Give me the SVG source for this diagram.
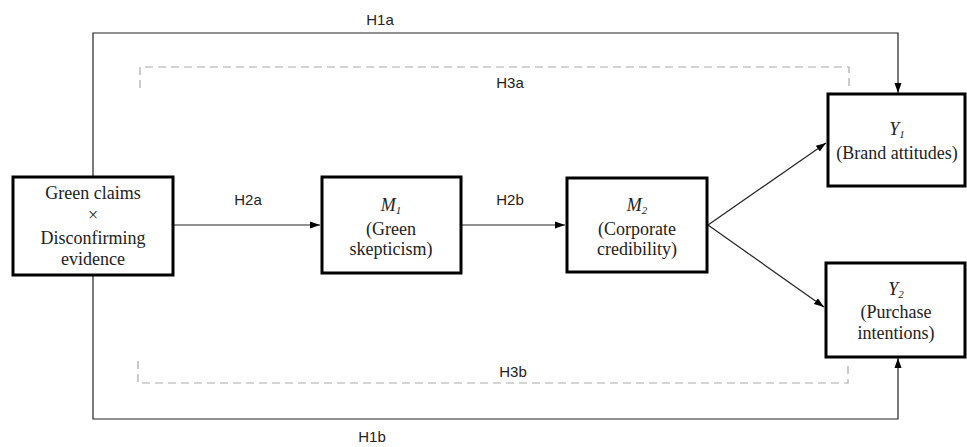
<svg xmlns="http://www.w3.org/2000/svg" width="967" height="447" viewBox="0 0 967 447">
<style>
.box{fill:#fff;stroke:#000;stroke-width:3}
.t{font-family:"Liberation Serif",serif;font-size:18px;fill:#222;text-anchor:middle}
.i{font-style:italic}
.sub{font-style:italic;font-size:11px}
.lbl{font-family:"Liberation Sans",Arial,sans-serif;font-size:15px;fill:#222;text-anchor:middle}
.ln{fill:none;stroke:#222;stroke-width:1.2}
.ds{fill:none;stroke:#aaa;stroke-width:1.2;stroke-dasharray:8,5}
</style>
<defs>
<marker id="ah" viewBox="0 0 10 10" refX="10" refY="5" markerWidth="10" markerHeight="10" markerUnits="userSpaceOnUse" orient="auto">
<path d="M0,1.5 L10,5 L0,8.5 z" fill="#000"/>
</marker>
</defs>
<g id="connectors">
<path class="ln" d="M93,177 V33 H898 V93" marker-end="url(#ah)"/>
<path class="ln" d="M93,275 V419 H898 V358" marker-end="url(#ah)"/>
<path class="ds" d="M140,88 V67 H849 V87"/>
<path class="ds" d="M138,361 V383 H848 V364"/>
<path class="ln" d="M174,225 H320" marker-end="url(#ah)"/>
<path class="ln" d="M462,225 H565" marker-end="url(#ah)"/>
<path class="ln" d="M708,225 L826,143" marker-end="url(#ah)"/>
<path class="ln" d="M708,225 L824,307" marker-end="url(#ah)"/>
</g>
<g id="labels">
<text class="lbl" x="380" y="25">H1a</text>
<text class="lbl" x="510" y="88">H3a</text>
<text class="lbl" x="248" y="205">H2a</text>
<text class="lbl" x="510" y="205">H2b</text>
<text class="lbl" x="513" y="377">H3b</text>
<text class="lbl" x="372" y="442">H1b</text>
</g>
<g id="x">
<rect class="box" x="13" y="177" width="160" height="98"/>
<text class="t" x="93" y="199">Green claims</text>
<text class="t" x="93" y="221">×</text>
<text class="t" x="93" y="244">Disconfirming</text>
<text class="t" x="93" y="265">evidence</text>
</g>
<g id="m1">
<rect class="box" x="322" y="177" width="139" height="96"/>
<text class="t" x="391" y="211"><tspan class="i">M</tspan><tspan class="sub" dy="3">1</tspan></text>
<text class="t" x="391" y="235">(Green</text>
<text class="t" x="391" y="255">skepticism)</text>
</g>
<g id="m2">
<rect class="box" x="567" y="178" width="140" height="94"/>
<text class="t" x="637" y="211"><tspan class="i">M</tspan><tspan class="sub" dy="3">2</tspan></text>
<text class="t" x="637" y="235">(Corporate</text>
<text class="t" x="637" y="255">credibility)</text>
</g>
<g id="y1">
<rect class="box" x="828" y="94" width="137" height="92"/>
<text class="t" x="897" y="135"><tspan class="i">Y</tspan><tspan class="sub" dy="3">1</tspan></text>
<text class="t" x="897" y="159">(Brand attitudes)</text>
</g>
<g id="y2">
<rect class="box" x="826" y="263" width="139" height="94"/>
<text class="t" x="896" y="295"><tspan class="i">Y</tspan><tspan class="sub" dy="3">2</tspan></text>
<text class="t" x="896" y="318">(Purchase</text>
<text class="t" x="896" y="339">intentions)</text>
</g>
</svg>
